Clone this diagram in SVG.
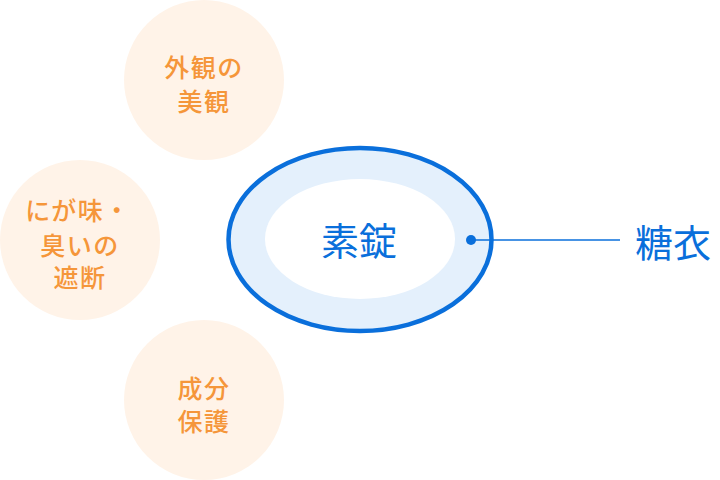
<svg xmlns="http://www.w3.org/2000/svg" width="720" height="480" viewBox="0 0 720 480">
<style>
.bub{fill:#FFF3E8;}
.bt{font-family:"Noto Sans CJK JP","Noto Sans",sans-serif;font-size:25px;font-weight:500;fill:#F5963A;text-anchor:middle;dominant-baseline:central;letter-spacing:1.5px;}
.bl{font-family:"Noto Sans CJK JP","Noto Sans",sans-serif;font-size:38px;font-weight:400;fill:#0A6FDB;dominant-baseline:central;}
</style>
<rect width="720" height="480" fill="#ffffff"/>
<g id="benefit-appearance">
<circle class="bub" cx="204" cy="80" r="80"/>
<text class="bt" x="204" y="66">外観の</text>
<text class="bt" x="204" y="99.5">美観</text>
</g>
<g id="benefit-masking">
<circle class="bub" cx="80" cy="240" r="80"/>
<text class="bt" x="78" y="209">にが味・</text>
<text class="bt" x="80" y="243.5">臭いの</text>
<text class="bt" x="80" y="276">遮断</text>
</g>
<g id="benefit-protection">
<circle class="bub" cx="204" cy="400" r="80"/>
<text class="bt" x="204" y="387">成分</text>
<text class="bt" x="204" y="419.5">保護</text>
</g>
<g id="tablet">
<ellipse cx="360" cy="239.5" rx="131.5" ry="91.5" fill="#E4F0FC" stroke="#0A6FDB" stroke-width="4.5"/>
<ellipse cx="360" cy="239" rx="95" ry="60" fill="#ffffff"/>
<text class="bl" x="359" y="238" text-anchor="middle">素錠</text>
</g>
<g id="connectors">
<line x1="471" y1="240" x2="620" y2="240" stroke="#0A6FDB" stroke-width="1.6"/>
<circle cx="471" cy="240" r="5" fill="#0A6FDB"/>
</g>
<g id="coating-label">
<text class="bl" x="635" y="240">糖衣</text>
</g>
</svg>
